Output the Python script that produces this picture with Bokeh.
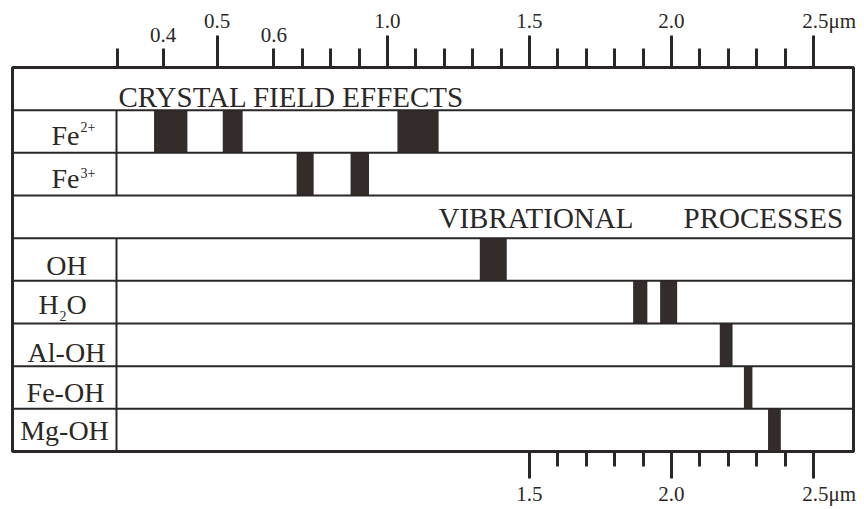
import numpy as np
from bokeh.plotting import figure
from bokeh.models import Range1d, LinearAxis, FixedTicker, Span, Label, ColumnDataSource
from bokeh.embed import file_html
from bokeh.resources import INLINE

# ---------------- data ----------------
rows = ["CRYSTAL FIELD EFFECTS", "Fe2+", "Fe3+", "VIBRATIONAL PROCESSES",
        "OH", "H2O", "Al-OH", "Fe-OH", "Mg-OH"]
header_rows = ["CRYSTAL FIELD EFFECTS", "VIBRATIONAL PROCESSES"]

band_row = ["Fe2+", "Fe2+", "Fe2+", "Fe3+", "Fe3+", "OH", "H2O", "H2O",
            "Al-OH", "Fe-OH", "Mg-OH"]
band_start = [0.38, 0.51, 1.035, 0.68, 0.87, 1.325, 1.865, 1.96, 2.17, 2.255, 2.34]
band_end = [0.445, 0.545, 1.18, 0.74, 0.935, 1.42, 1.915, 2.02, 2.215, 2.285, 2.385]

top_major_ticks = [0.5, 1.0, 1.5, 2.0, 2.5]          # long ticks, labelled high
top_minor_ticks = [0.3, 0.4, 0.6, 0.7, 0.8, 0.9, 1.1, 1.2, 1.3, 1.4,
                   1.6, 1.7, 1.8, 1.9, 2.1, 2.2, 2.3, 2.4]   # short ticks
top_low_labels = [0.4, 0.6]                          # short ticks that carry a label
bottom_major_ticks = [1.5, 2.0, 2.5]
bottom_minor_ticks = [1.6, 1.7, 1.8, 1.9, 2.1, 2.2, 2.3, 2.4]
unit = "\u03bcm"

# ------------- wavelength scale (visible part is drawn stretched) -------------
WL_KNOTS = [0.3, 0.4, 0.5, 0.6, 3.0]
AX_KNOTS = [0.05, 0.21, 0.40, 0.60, 3.0]


def wl(x):
    return np.round(np.interp(x, WL_KNOTS, AX_KNOTS), 6)


INK = "#2b2727"
BAR = "#332c2a"
FONT = "Liberation Serif"
PAD = "\u2002\u2002\u2002"   # keeps the number centred on its tick when the unit follows
NL = "\n\u00a0"              # blank second line lifts the long-tick labels

N = len(rows)
X0, X1 = -0.3204, 2.6409
FRAME_L, FRAME_W, FRAME_T, FRAME_H = 12, 841, 67, 384


def sx(px):  # page pixel -> axis units (for text placement)
    return X0 + (px - FRAME_L) * (X1 - X0) / FRAME_W


def sy(py):
    return N - (py - FRAME_T) * N / FRAME_H


p = figure(width=864, height=509, output_backend="svg", toolbar_location=None,
           x_range=Range1d(X0, X1), y_range=Range1d(0, N),
           x_axis_location=None, y_axis_location=None,
           min_border_left=12, min_border_right=11, min_border_top=67, min_border_bottom=58)
p.grid.visible = False
p.outline_line_color = INK
p.outline_line_width = 3
p.background_fill_color = "white"

# row geometry
row_top = {r: N - i for i, r in enumerate(rows)}
row_bot = {r: N - i - 1 for i, r in enumerate(rows)}

# bands
src = ColumnDataSource(dict(
    left=wl(band_start), right=wl(band_end),
    bottom=[row_bot[r] for r in band_row], top=[row_top[r] for r in band_row]))
p.quad(left="left", right="right", bottom="bottom", top="top", source=src,
       fill_color=BAR, line_color=None)

# row separators
for k in range(1, N):
    p.add_layout(Span(location=k, dimension="width", line_color=INK, line_width=2))

# label column divider (not in header rows)
div_x = sx(116)
lab_rows = [r for r in rows if r not in header_rows]
p.segment(x0=[div_x] * len(lab_rows), x1=[div_x] * len(lab_rows),
          y0=[row_bot[r] for r in lab_rows], y1=[row_top[r] for r in lab_rows],
          line_color=INK, line_width=2)

# ---- top axis: every tick drawn short ("major"), long ticks overlaid as "minor" ----
all_top = sorted(top_major_ticks + top_minor_ticks)
top_labels = {}
for t in all_top:
    key = float(wl(t))
    if t in top_major_ticks:
        txt = f"{t:.1f}" if t != top_major_ticks[-1] else f"{PAD}{t:.1f}{unit}"
        top_labels[key] = txt + NL
    elif t in top_low_labels:
        top_labels[key] = f"{t:.1f}"
    else:
        top_labels[key] = ""

top = LinearAxis(
    ticker=FixedTicker(ticks=[float(v) for v in wl(all_top)],
                       minor_ticks=[float(v) for v in wl(top_major_ticks)]),
    major_label_overrides=top_labels,
    axis_line_color=None,
    major_tick_in=0, major_tick_out=19, minor_tick_in=0, minor_tick_out=32,
    major_tick_line_width=3, minor_tick_line_width=3,
    major_tick_line_color=INK, minor_tick_line_color=INK,
    major_label_text_font=FONT, major_label_text_font_size="21px",
    major_label_text_line_height=0.55,
    major_label_text_color=INK, major_label_standoff=-11)
p.add_layout(top, "above")

bottom = LinearAxis(
    ticker=FixedTicker(ticks=bottom_major_ticks, minor_ticks=bottom_minor_ticks),
    major_label_overrides={t: (f"{t:.1f}" if t != bottom_major_ticks[-1]
                               else f"{PAD}{t:.1f}{unit}") for t in bottom_major_ticks},
    axis_line_color=None,
    major_tick_in=0, major_tick_out=27, minor_tick_in=0, minor_tick_out=15,
    major_tick_line_width=3, minor_tick_line_width=3,
    major_tick_line_color=INK, minor_tick_line_color=INK,
    major_label_text_font=FONT, major_label_text_font_size="21px",
    major_label_text_color=INK, major_label_standoff=3)
p.add_layout(bottom, "below")


def lab(text, x, py, size, align="left"):
    # py is the page y of the text baseline; Label is placed by its middle
    mid = py - 0.34 * size
    p.add_layout(Label(x=x, y=sy(mid), text=text, text_font=FONT,
                       text_font_size=f"{size}px", text_align=align,
                       text_baseline="middle", text_color=INK))


# headers
lab(rows[0], sx(118), 106, 29)
w1, w2 = rows[3].split(" ")
lab(w1, sx(438), 227, 29)
lab(w2, sx(683), 227, 29)

# row labels
lab("Fe", sx(79), 145, 28, "right")
lab(rows[1][2:], sx(80), 131, 14)
lab("Fe", sx(79), 188, 28, "right")
lab(rows[2][2:], sx(80), 177, 14)
lab(rows[4], sx(66), 275, 28, "center")
lab("H", sx(38), 314, 28)
lab("2", sx(59), 320, 14)
lab("O", sx(66), 314, 28)
lab(rows[6], sx(66), 362, 28, "center")
lab(rows[7], sx(65), 402, 28, "center")
lab(rows[8], sx(64), 440, 28, "center")

open("out.html", "w").write(file_html(p, INLINE))
